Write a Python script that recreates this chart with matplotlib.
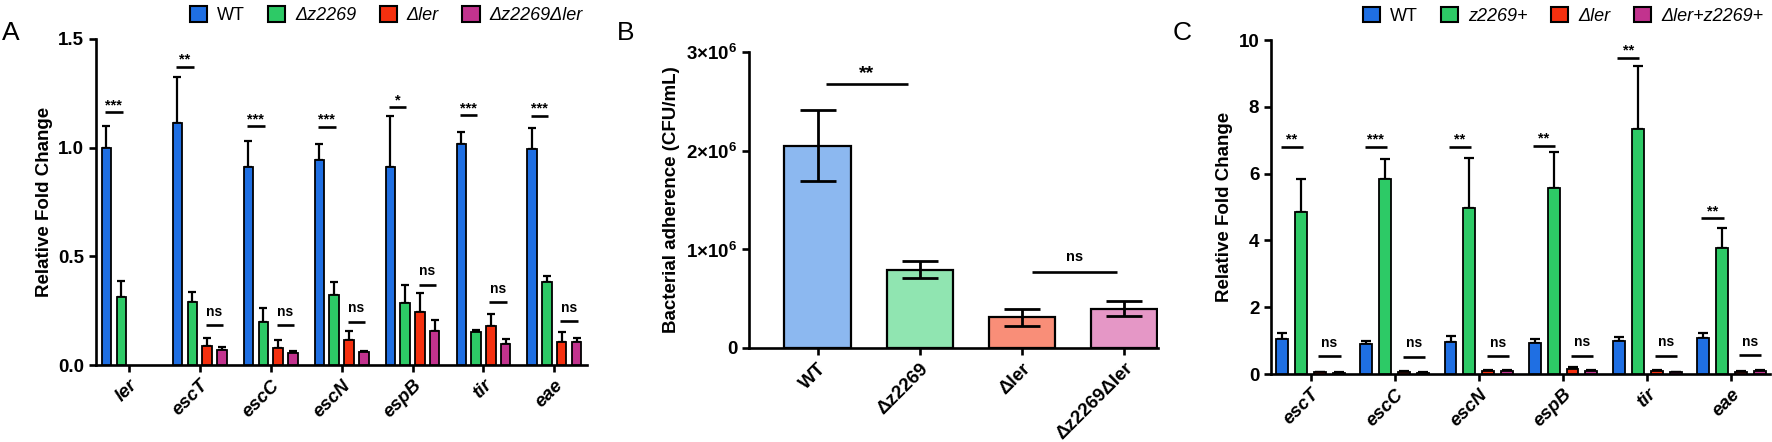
import numpy as np
import matplotlib
matplotlib.use("Agg")
import matplotlib.pyplot as plt
from matplotlib.patches import Patch

plt.rcParams['font.family'] = ['Liberation Sans', 'DejaVu Sans']
plt.rcParams['mathtext.fontset'] = 'custom'
plt.rcParams['mathtext.rm'] = 'Liberation Sans:bold'
plt.rcParams['mathtext.bf'] = 'Liberation Sans:bold'

# ---- panel A data ----
genes_a = ['ler', 'escT', 'escC', 'escN', 'espB', 'tir', 'eae']
wt_a = [1.00, 1.114, 0.912, 0.942, 0.912, 1.017, 0.994]
wt_a_err = [0.100, 0.213, 0.118, 0.075, 0.234, 0.054, 0.096]
dz_a = [0.312, 0.290, 0.198, 0.320, 0.287, 0.152, 0.383]
dz_a_err = [0.074, 0.047, 0.064, 0.063, 0.081, 0.009, 0.027]
dler_a = [np.nan, 0.087, 0.077, 0.113, 0.244, 0.179, 0.107]
dler_a_err = [np.nan, 0.036, 0.038, 0.042, 0.086, 0.057, 0.046]
dbl_a = [np.nan, 0.067, 0.054, 0.060, 0.155, 0.098, 0.104]
dbl_a_err = [np.nan, 0.017, 0.012, 0.003, 0.052, 0.023, 0.022]
sig_a = ['***', '**', '***', '***', '*', '***', '***']
sig_a_y = [1.164, 1.373, 1.099, 1.097, 1.186, 1.149, 1.146]
ns_a_y = [np.nan, 0.182, 0.182, 0.198, 0.369, 0.288, 0.202]
labels_a = ['WT', 'Δz2269', 'Δler', 'Δz2269Δler']

# ---- panel B data ----
strains_b = ['WT', 'Δz2269', 'Δler', 'Δz2269Δler']
adh_b = [2.05e6, 0.795e6, 0.31e6, 0.40e6]
adh_b_err = [0.36e6, 0.083e6, 0.09e6, 0.075e6]
yticks_b = [0, 1e6, 2e6, 3e6]
yticklabels_b = ['0', '1×10$^6$', '2×10$^6$', '3×10$^6$']

# ---- panel C data ----
genes_c = ['escT', 'escC', 'escN', 'espB', 'tir', 'eae']
wt_c = [1.06, 0.91, 0.96, 0.94, 0.99, 1.09]
wt_c_err = [0.16, 0.07, 0.18, 0.11, 0.13, 0.13]
zp_c = [4.85, 5.84, 4.97, 5.56, 7.34, 3.77]
zp_c_err = [1.00, 0.61, 1.51, 1.09, 1.87, 0.59]
dler_c = [0.05, 0.06, 0.10, 0.15, 0.08, 0.07]
dler_c_err = [0.02, 0.02, 0.03, 0.05, 0.03, 0.02]
comp_c = [0.04, 0.04, 0.08, 0.10, 0.05, 0.08]
comp_c_err = [0.02, 0.01, 0.03, 0.03, 0.02, 0.03]
sig_c = ['**', '***', '**', '**', '**', '**']
sig_c_y = [6.80, 6.80, 6.80, 6.84, 9.47, 4.67]
ns_c_y = [0.53, 0.52, 0.53, 0.55, 0.55, 0.56]
labels_c = ['WT', 'z2269+', 'Δler', 'Δler+z2269+']

cols_dark = ['#1f6fe3', '#2dca66', '#f5300f', '#c2338e']
cols_light = ['#8cb8f0', '#90e5b1', '#f98e78', '#e597c6']

FS = 13.5
SPINE = 1.9


def style_axes(ax):
    for s in ['top', 'right']:
        ax.spines[s].set_visible(False)
    for s in ['left', 'bottom']:
        ax.spines[s].set_linewidth(SPINE)
    ax.tick_params(axis='both', width=SPINE, length=5, labelsize=FS)
    for t in ax.get_yticklabels():
        t.set_fontweight('bold')


def grouped(ax, series, errs, pitch, width, capsize):
    x = np.arange(len(series[0]))
    offs = (np.arange(4) - 1.5) * pitch
    for i in range(4):
        xi = x + offs[i]
        v = np.array(series[i], dtype=float)
        e = np.array(errs[i], dtype=float)
        ax.bar(xi, v, width, color=cols_dark[i], edgecolor='black',
               linewidth=1.3, zorder=3)
        ax.errorbar(xi, v, yerr=[np.zeros_like(e), e], fmt='none',
                    ecolor='black', elinewidth=1.6, capsize=capsize,
                    capthick=1.6, zorder=2)
    return x, offs


def sig_line(ax, x1, x2, y, text, fs, dy):
    ax.plot([x1, x2], [y, y], color='black', lw=1.9, solid_capstyle='butt',
            clip_on=False, zorder=4)
    ax.text((x1 + x2) / 2, y + dy, text, ha='center', va='bottom',
            fontsize=fs, fontweight='bold', clip_on=False)


fig = plt.figure(figsize=(17.72, 4.42), dpi=100)

# ---------------- A ----------------
axA = fig.add_axes([0.0542, 0.1742, 0.2771, 0.7376])
x, offs = grouped(axA, [wt_a, dz_a, dler_a, dbl_a],
                  [wt_a_err, dz_a_err, dler_a_err, dbl_a_err], 0.21, 0.13, 3)
axA.set_xlim(-0.46, 6.46)
axA.set_ylim(0, 1.5)
axA.set_yticks([0, 0.5, 1.0, 1.5])
axA.set_yticklabels(['0.0', '0.5', '1.0', '1.5'])
axA.set_xticks(x)
axA.set_xticklabels(genes_a, rotation=45, ha='right', rotation_mode='anchor',
                    fontweight='bold', fontstyle='italic')
axA.set_ylabel('Relative Fold Change', fontsize=FS, fontweight='bold')
style_axes(axA)
for i in range(len(genes_a)):
    sig_line(axA, x[i] + offs[0] - 0.02, x[i] + offs[1] + 0.02, sig_a_y[i],
             sig_a[i], 10.5, 0.0)
    if not np.isnan(ns_a_y[i]):
        sig_line(axA, x[i] + offs[2] - 0.02, x[i] + offs[3] + 0.02, ns_a_y[i],
                 'ns', 10, 0.03)
hA = [Patch(facecolor=c, edgecolor='black', linewidth=1.5) for c in cols_dark]
legA = fig.legend(hA, labels_a, loc='center left', bbox_to_anchor=(0.107, 0.966),
                  ncol=4, frameon=False, fontsize=13, handlelength=0.95,
                  handleheight=0.95, handletextpad=0.55, columnspacing=1.3,
                  borderpad=0, borderaxespad=0)
for t in legA.get_texts()[1:]:
    t.set_fontstyle('italic')

# ---------------- B ----------------
axB = fig.add_axes([0.4227, 0.2127, 0.2308, 0.6697])
xb = np.arange(len(strains_b))
axB.bar(xb, adh_b, 0.65, color=cols_light, edgecolor='black', linewidth=1.6,
        zorder=3)
axB.errorbar(xb, adh_b, yerr=adh_b_err, fmt='none', ecolor='black',
             elinewidth=2.0, capsize=13, capthick=2.0, zorder=4)
axB.set_xlim(-0.67, 3.33)
axB.set_ylim(0, 3e6)
axB.set_yticks(yticks_b)
axB.set_yticklabels(yticklabels_b)
axB.set_xticks(xb)
axB.set_xticklabels(strains_b, rotation=45, ha='right', rotation_mode='anchor',
                    fontweight='bold')
axB.set_ylabel('Bacterial adherence (CFU/mL)', fontsize=FS, fontweight='bold')
style_axes(axB)
sig_line(axB, 0.08, 0.88, 2.68e6, '**', 14, 0.02e6)
sig_line(axB, 2.1, 2.93, 0.767e6, 'ns', 10.5, 0.08e6)

# ---------------- C ----------------
axC = fig.add_axes([0.7173, 0.1538, 0.2816, 0.7557])
xc, offc = grouped(axC, [wt_c, zp_c, dler_c, comp_c],
                   [wt_c_err, zp_c_err, dler_c_err, comp_c_err], 0.225, 0.142, 3.5)
axC.set_xlim(-0.47, 5.46)
axC.set_ylim(0, 10)
axC.set_yticks([0, 2, 4, 6, 8, 10])
axC.set_xticks(xc)
axC.set_xticklabels(genes_c, rotation=45, ha='right', rotation_mode='anchor',
                    fontweight='bold', fontstyle='italic')
axC.set_ylabel('Relative Fold Change', fontsize=FS, fontweight='bold')
style_axes(axC)
for i in range(len(genes_c)):
    sig_line(axC, xc[i] + offc[0] - 0.02, xc[i] + offc[1] + 0.02, sig_c_y[i],
             sig_c[i], 10.5, 0.0)
    sig_line(axC, xc[i] + offc[2] - 0.02, xc[i] + offc[3] + 0.02, ns_c_y[i],
             'ns', 10, 0.2)
hC = [Patch(facecolor=c, edgecolor='black', linewidth=1.5) for c in cols_dark]
legC = fig.legend(hC, labels_c, loc='center left', bbox_to_anchor=(0.769, 0.964),
                  ncol=4, frameon=False, fontsize=13, handlelength=0.95,
                  handleheight=0.95, handletextpad=0.55, columnspacing=1.3,
                  borderpad=0, borderaxespad=0)
for t in legC.get_texts()[1:]:
    t.set_fontstyle('italic')

# panel letters
fig.text(0.001, 0.925, 'A', fontsize=19, va='center', ha='left')
fig.text(0.348, 0.925, 'B', fontsize=19, va='center', ha='left')
fig.text(0.662, 0.925, 'C', fontsize=19, va='center', ha='left')

fig.savefig('out.png', dpi=100)
